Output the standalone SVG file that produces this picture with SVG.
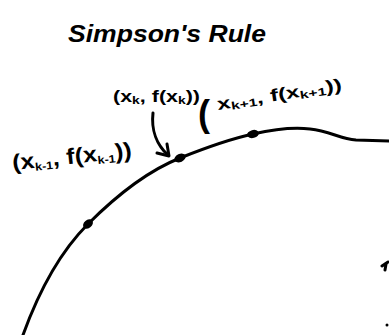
<svg xmlns="http://www.w3.org/2000/svg" width="389" height="335" viewBox="0 0 389 335">
<style>
.ink{fill:none;stroke:#000;stroke-width:3;stroke-linecap:round;stroke-linejoin:round}
.lbl{font-family:"Liberation Sans",Arial,sans-serif;fill:#000;font-weight:bold}
.sub{font-size:11px}
</style>
<rect width="389" height="335" fill="#fff"/>
<g id="title">
<text class="lbl" x="68" y="42" font-size="24" textLength="198" lengthAdjust="spacingAndGlyphs" font-style="italic">Simpson's Rule</text>
</g>
<g id="curve">
<path class="ink" d="M23,335 C40,288 60,252 88,224 C115,197 145,172 180,158 C205,148 230,139 253,134 C275,129 292,127 310,129 C330,131 340,139 356,140 L389,141"/>
</g>
<g id="p-km1">
<ellipse cx="88" cy="224" rx="5.5" ry="4" transform="rotate(-40 88 224)"/>
<text class="lbl" x="13" y="170" font-size="22" transform="rotate(-6 13 170)" textLength="120" lengthAdjust="spacingAndGlyphs">(x<tspan class="sub" dy="3">k-1</tspan><tspan dy="-3">, f(x</tspan><tspan class="sub" dy="3">k-1</tspan><tspan dy="-3">))</tspan></text>
</g>
<g id="p-k">
<ellipse cx="180" cy="158" rx="6" ry="4" transform="rotate(-25 180 158)"/>
<text class="lbl" x="113" y="102" font-size="17" textLength="87" lengthAdjust="spacingAndGlyphs">(x<tspan class="sub" dy="2">k</tspan><tspan dy="-2">, f(x</tspan><tspan class="sub" dy="2">k</tspan><tspan dy="-2">))</tspan></text>
</g>
<g id="p-kp1">
<ellipse cx="253" cy="134" rx="6" ry="4" transform="rotate(-15 253 134)"/>
<text class="lbl" x="198" y="126" font-size="36" font-weight="normal">(</text>
<text class="lbl" x="218" y="110" font-size="17" transform="rotate(-9 218 110)" textLength="126" lengthAdjust="spacingAndGlyphs">x<tspan class="sub" dy="2">k+1</tspan><tspan dy="-2">, f(x</tspan><tspan class="sub" dy="2">k+1</tspan><tspan dy="-2">))</tspan></text>
</g>
<g id="connectors">
<path class="ink" d="M153,113 C151,130 157,145 168,155"/>
<path class="ink" d="M157,153 L169,156 L167,144"/>
</g>
<g id="edge-marks">
<path class="ink" d="M382,266 L388,262"/>
<path class="ink" d="M386,264 L385,270"/>
<circle cx="387" cy="325" r="1.5"/>
</g>
</svg>
